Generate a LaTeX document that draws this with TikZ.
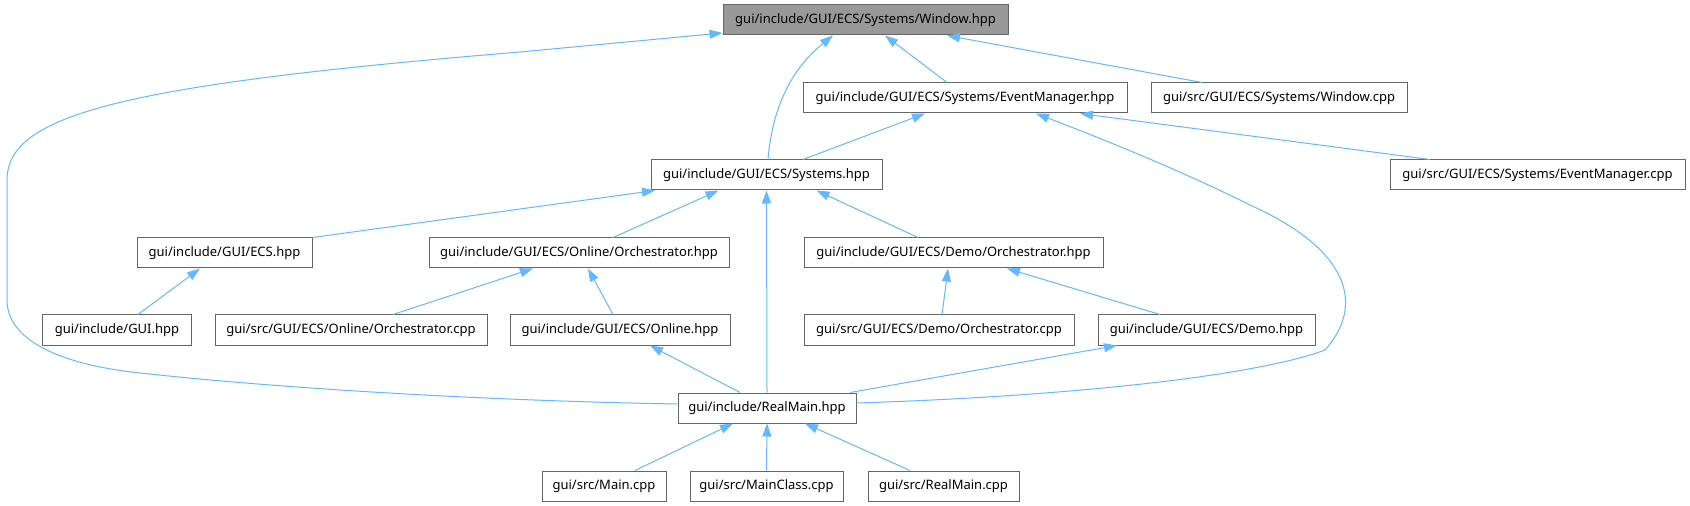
\documentclass[tikz,border=0pt]{standalone}
\usepackage{fontspec}
\setmainfont{Noto Sans}
\usetikzlibrary{arrows.meta}
\definecolor{edgeblue}{HTML}{63B8FF}
\definecolor{boxline}{HTML}{666666}
\definecolor{topfill}{HTML}{999999}

\begin{document}
\begin{tikzpicture}
    %defining some styles
    [
        x=1bp, y=-1bp,
        file/.style={rectangle, draw=boxline, fill=white, line width=1bp, minimum height=30bp, inner sep=0pt, font=\fontsize{13bp}{15bp}\selectfont},
        topfile/.style={file, fill=topfill},
        edge/.style={draw=edgeblue, line width=1bp, -{Triangle[length=13bp, width=9bp]}},
    ]
    \useasboundingbox (0,0) rectangle (1690,506);

    % files
    \node (win) at (865.5,20) [topfile, minimum width=285bp] {gui/include/GUI/ECS/Systems/Window.hpp};
    \node (evh) at (965,98) [file, minimum width=324bp] {gui/include/GUI/ECS/Systems/EventManager.hpp};
    \node (wincpp) at (1279,98) [file, minimum width=256bp] {gui/src/GUI/ECS/Systems/Window.cpp};
    \node (sys) at (766.5,175) [file, minimum width=231bp] {gui/include/GUI/ECS/Systems.hpp};
    \node (evcpp) at (1537.5,175) [file, minimum width=295bp] {gui/src/GUI/ECS/Systems/EventManager.cpp};
    \node (ecs) at (224.5,253) [file, minimum width=175bp] {gui/include/GUI/ECS.hpp};
    \node (onorch) at (579,253) [file, minimum width=300bp] {gui/include/GUI/ECS/Online/Orchestrator.hpp};
    \node (demoorch) at (953.5,253) [file, minimum width=299bp] {gui/include/GUI/ECS/Demo/Orchestrator.hpp};
    \node (gui) at (117,330) [file, minimum width=148bp] {gui/include/GUI.hpp};
    \node (onorchcpp) at (351,330) [file, minimum width=272bp] {gui/src/GUI/ECS/Online/Orchestrator.cpp};
    \node (online) at (620,330) [file, minimum width=220bp] {gui/include/GUI/ECS/Online.hpp};
    \node (demoorchcpp) at (939,330) [file, minimum width=270bp] {gui/src/GUI/ECS/Demo/Orchestrator.cpp};
    \node (demo) at (1206.5,330) [file, minimum width=217bp] {gui/include/GUI/ECS/Demo.hpp};
    \node (realmain) at (767,408) [file, minimum width=178bp] {gui/include/RealMain.hpp};
    \node (maincpp) at (604,486) [file, minimum width=124bp] {gui/src/Main.cpp};
    \node (mainclass) at (766.5,486) [file, minimum width=153bp] {gui/src/MainClass.cpp};
    \node (realmaincpp) at (943.5,486) [file, minimum width=151bp] {gui/src/RealMain.cpp};

    % includes
    \draw[edge] ([xshift=-18bp]evh.north) -- ([xshift=19.5bp]win.south);
    \draw[edge] ([xshift=-77bp]wincpp.north) -- ([xshift=81.5bp]win.south);
    \draw[edge] ([xshift=1.5bp]sys.north) .. controls (772,110) and (790,70) .. ([xshift=-32.5bp]win.south);
    \draw[edge] ([yshift=4bp]realmain.west) .. controls (450,400) and (250,385) .. (150,374)
        .. controls (60,366) and (7,340) .. (7,300) -- (7,180)
        .. controls (7,115) and (120,85) .. (520,52) -- ([yshift=-13bp]win.west);
    \draw[edge] ([xshift=36.5bp]sys.north) -- ([xshift=-40bp]evh.south);
    \draw[edge] ([xshift=-107.5bp]evcpp.north) -- ([xshift=115bp]evh.south);
    \draw[edge] ([yshift=5bp]realmain.east) .. controls (1050,397) and (1250,378) .. (1325,350)
        .. controls (1365,305) and (1350,250) .. (1250,205)
        .. controls (1180,170) and (1100,138) .. ([xshift=71bp]evh.south);
    \draw[edge] (ecs.north east) -- ([xshift=-111.5bp]sys.south);
    \draw[edge] ([xshift=34bp]onorch.north) -- ([xshift=-48bp]sys.south);
    \draw[edge] (realmain.north) -- (sys.south);
    \draw[edge] ([xshift=-35.5bp]demoorch.north) -- ([xshift=50bp]sys.south);
    \draw[edge] ([xshift=21bp]gui.north) -- ([xshift=-24.5bp]ecs.south);
    \draw[edge] ([xshift=42bp]onorchcpp.north) -- ([xshift=-46bp]onorch.south);
    \draw[edge] ([xshift=-7bp]online.north) -- ([xshift=9bp]onorch.south);
    \draw[edge] ([xshift=3bp]demoorchcpp.north) -- ([xshift=-5.5bp]demoorch.south);
    \draw[edge] ([xshift=-46.5bp]demo.north) -- ([xshift=53.5bp]demoorch.south);
    \draw[edge] ([xshift=-27bp]realmain.north) -- ([xshift=30bp]online.south);
    \draw[edge] ([xshift=83bp]realmain.north) -- ([xshift=-89.5bp]demo.south);
    \draw[edge] ([xshift=31bp]maincpp.north) -- ([xshift=-34bp]realmain.south);
    \draw[edge] (mainclass.north) -- (realmain.south);
    \draw[edge] ([xshift=-33.5bp]realmaincpp.north) -- ([xshift=38bp]realmain.south);
\end{tikzpicture}
\end{document}
